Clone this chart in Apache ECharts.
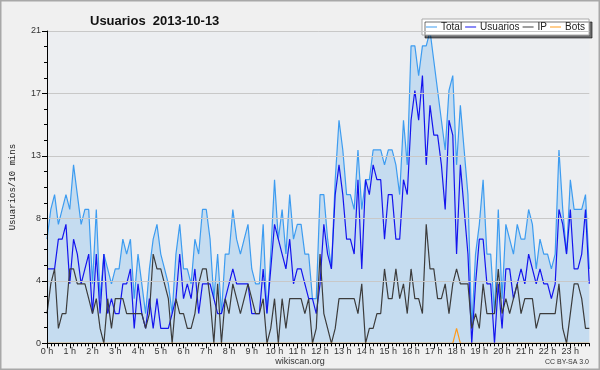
<!DOCTYPE html>
<html><head><meta charset="utf-8">
<script src="https://cdn.jsdelivr.net/npm/echarts@6/dist/echarts.min.js"></script>
<style>html,body{margin:0;padding:0;background:#f0f0f0}#c{width:600px;height:370px}</style>
</head><body><div id="c"></div><script>
const hourLabels = ['0 h','1 h','2 h','3 h','4 h','5 h','6 h','7 h','8 h','9 h','10 h','11 h','12 h','13 h','14 h','15 h','16 h','17 h','18 h','19 h','20 h','21 h','22 h','23 h'];
const slotMinutes = ['00','10','20','30','40','50'];
const yTickLabels = ['0','4','8','13','17','21'];
const seriesNames = ['Total','Usuarios','IP','Bots'];

const total = [
7,9,10,8,9,10,9,12,10,8,
9,9,4,9,3,6,5,4,5,5,
7,6,7,3,6,4,2,5,7,8,
6,5,4,2,6,8,5,5,4,7,
6,9,9,7,3,6,2,6,6,9,
7,6,7,8,5,4,4,8,2,6,
11,7,9,6,10,7,8,8,6,6,
3,3,10,10,7,5,11,15,13,10,
10,9,13,9,11,11,13,13,13,12,
13,13,12,10,15,12,20,20,18,20,
20,21,19,17,15,13,17,18,12,16,
13,10,1,6,8,11,6,6,2,9,
3,8,7,6,8,7,7,9,8,5,
7,6,6,5,6,13,9,6,11,9,
9,9,10,5];
const usuarios = [
5,5,5,7,7,8,4,7,6,4,
5,6,2,6,2,6,2,3,2,2,
4,4,5,1,4,2,1,3,1,3,
1,1,1,2,3,6,3,4,3,5,
2,4,4,4,3,2,2,3,4,5,
4,4,4,4,2,2,2,5,2,5,
8,7,6,5,7,4,5,5,4,3,
3,2,4,8,6,5,10,12,10,7,
7,6,11,5,11,10,12,11,11,7,
10,10,7,7,11,10,15,17,15,18,
12,16,14,14,12,9,15,14,6,12,
9,6,0,4,7,7,4,4,0,4,
1,5,5,3,4,5,4,6,5,4,
5,4,4,3,4,9,8,6,9,5,
5,6,9,4];
const ip = [
2,4,5,1,2,2,5,5,4,4,
4,3,2,3,1,0,3,1,3,3,
3,2,2,2,2,2,1,2,6,5,
5,4,3,0,3,2,2,1,1,2,
4,5,5,3,0,4,0,3,2,4,
3,2,3,4,3,2,2,3,0,1,
3,0,3,1,3,3,3,3,2,3,
0,1,6,2,1,0,1,3,3,3,
3,3,2,4,0,1,1,2,2,5,
3,3,5,3,4,2,5,3,3,2,
8,5,5,3,3,4,2,4,5,4,
4,4,1,2,1,4,2,2,2,5,
2,3,2,3,4,2,3,3,3,1,
2,2,2,2,2,4,1,0,2,4,
4,3,1,1];
const bots = [
0,0,0,0,0,0,0,0,0,0,
0,0,0,0,0,0,0,0,0,0,
0,0,0,0,0,0,0,0,0,0,
0,0,0,0,0,0,0,0,0,0,
0,0,0,0,0,0,0,0,0,0,
0,0,0,0,0,0,0,0,0,0,
0,0,0,0,0,0,0,0,0,0,
0,0,0,0,0,0,0,0,0,0,
0,0,0,0,0,0,0,0,0,0,
0,0,0,0,0,0,0,0,0,0,
0,0,0,0,0,0,0,0,1,0,
0,0,0,0,0,0,0,0,0,0,
0,0,0,0,0,0,0,0,0,0,
0,0,0,0,0,0,0,0,0,0,
0,0,0,0];

const categories = [];
hourLabels.forEach((h, k) => slotMinutes.forEach(m => categories.push(k + ':' + m)));

const chart = echarts.init(document.getElementById('c'), null, {renderer: 'canvas'});
const lbl = {fontFamily: 'Liberation Sans', fontSize: 9, color: '#333'};
const mk = (name, data, color, area) => ({
  name, type: 'line', data, symbol: 'none', xAxisIndex: 0,
  lineStyle: {color, width: 1.2}, itemStyle: {color},
  areaStyle: area ? {color: '#c5dcf0', opacity: 1} : undefined,
  emphasis: {disabled: true}
});
chart.setOption({
  animation: false,
  backgroundColor: '#f0f0f0',
  title: {text: 'Usuarios  2013-10-13', left: 85, top: 10,
    textStyle: {fontFamily: 'Liberation Sans', fontWeight: 'bold', fontSize: 13, color: '#111'}},
  legend: {
    data: seriesNames, left: 422, top: 19, padding: [3, 4, 3, 4], itemGap: 3,
    itemWidth: 11, itemHeight: 1, icon: 'rect',
    backgroundColor: '#fff', borderColor: '#aaa', borderWidth: 1,
    shadowColor: 'rgba(0,0,0,0.55)', shadowOffsetX: 3, shadowOffsetY: 3, shadowBlur: 0,
    textStyle: {fontFamily: 'Liberation Sans', fontSize: 10, color: '#222', padding: [0, 0, 0, -1]}
  },
  grid: {left: 46.3, right: 10.7, top: 31, bottom: 26.7, show: true, backgroundColor: '#eceef1', borderWidth: 0},
  xAxis: [{
    type: 'category', data: categories, boundaryGap: false, z: 10,
    axisLine: {lineStyle: {color: '#000', width: 1}},
    axisTick: {interval: 5, length: 5, lineStyle: {color: '#000'}},
    axisLabel: Object.assign({interval: 5, margin: 4, formatter: (v, i) => hourLabels[Math.floor(i / 6)]}, lbl),
    splitLine: {show: false}
  }, {
    type: 'category', data: categories, boundaryGap: false, position: 'bottom', z: 10,
    axisLine: {show: false},
    axisTick: {interval: 0, length: 3, lineStyle: {color: '#000'}},
    axisLabel: {show: false}, splitLine: {show: false}
  }],
  yAxis: {
    type: 'value', min: 0, max: 21, interval: 4.2, z: 10,
    name: 'Usuarios/10 mins', nameLocation: 'middle', nameGap: 30, nameRotate: 90,
    nameTextStyle: {fontFamily: 'Liberation Mono', fontSize: 9, color: '#222'},
    axisLine: {show: true, lineStyle: {color: '#000'}},
    axisTick: {show: true, length: 5, lineStyle: {color: '#000'}},
    minorTick: {show: true, splitNumber: 4, length: 3, lineStyle: {color: '#000'}},
    axisLabel: Object.assign({margin: 6, formatter: (v, i) => yTickLabels[i]}, lbl),
    splitLine: {show: true, lineStyle: {color: '#c8c8c8', width: 1}}
  },
  series: [
    mk(seriesNames[0], total, '#3d9cf0', true),
    mk(seriesNames[1], usuarios, '#1414ee', false),
    mk(seriesNames[2], ip, '#3c3c3c', false),
    mk(seriesNames[3], bots, '#ff9a1a', false)
  ],
  graphic: [
    {type: 'text', left: 'center', top: 357, style: {text: 'wikiscan.org', fontFamily: 'Liberation Sans', fontSize: 9, fill: '#333'}},
    {type: 'text', right: 11, top: 359, style: {text: 'CC BY-SA 3.0', fontFamily: 'Liberation Sans', fontSize: 7, fill: '#333'}},
    {type: 'rect', shape: {x: 0.5, y: 0.5, width: 599, height: 369}, style: {fill: 'none', stroke: '#a8a8a8', lineWidth: 2}, silent: true}
  ]
});
</script></body></html>
